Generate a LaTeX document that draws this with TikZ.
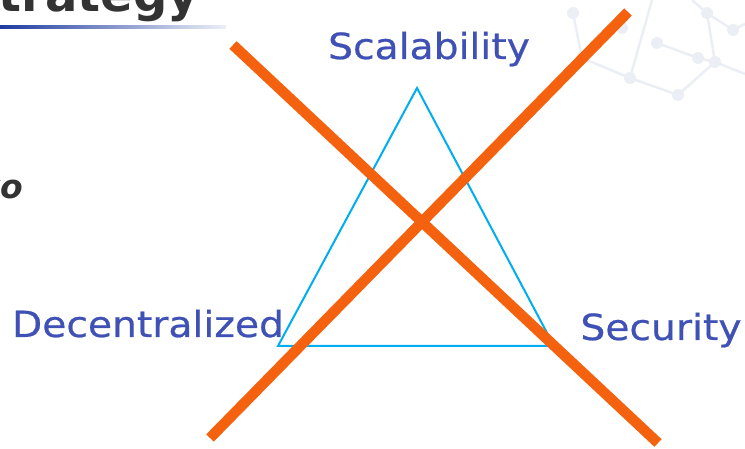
\documentclass[tikz,border=0pt]{standalone}
\usepackage{fontspec}
\setmainfont{DejaVu Sans}
\newfontfamily\labelfont[FakeStretch=1.09,FakeBold=0.6]{DejaVu Sans}
\usepackage{tikz}
\usetikzlibrary{positioning, calc}
\definecolor{bleu}{RGB}{63,81,181}
\definecolor{cyan}{RGB}{0,174,239}
\definecolor{orange}{RGB}{245,98,15}
\definecolor{gris}{RGB}{51,51,51}
\definecolor{reseau}{RGB}{235,238,244}
\definecolor{marine}{RGB}{30,60,160}

\begin{document}
\begin{tikzpicture}[x=1pt,y=-1pt,
		sommet/.style={font=\labelfont\fontsize{36}{36}\selectfont, text=bleu, inner sep=0pt, anchor=base},
		croix/.style={orange, line width=10.5pt}]
	\useasboundingbox (0,0) rectangle (745,449);
	% reseau en fond
	\foreach \xa/\ya/\xb/\yb in {630/78/678/95, 678/95/715/62, 715/62/707/13, 707/13/692/0,
		630/78/652/0, 657/43/698/58, 698/58/715/62, 715/62/745/74, 573/13/582/58,
		707/13/733/30, 733/30/745/24, 582/58/630/78}
	\draw[reseau, line width=2.5pt] (\xa,\ya) -- (\xb,\yb);
	\foreach \px/\py in {573/13, 622/28, 657/43, 707/13, 733/30, 698/58, 715/62, 630/78, 678/95, 582/58}
	\fill[reseau] (\px,\py) circle (6pt);
	% titre coupe
	\begin{scope}
		\clip (0,0) rectangle (745,23);
		\node[font=\bfseries\fontsize{48}{48}\selectfont, text=gris, inner sep=0pt, anchor=base east]
		(titre) at (199,12) {Strategy};
	\end{scope}
	\shade[left color=marine, right color=marine!8] (0,25.5) rectangle (226,28.5);
	\node[font=\bfseries\itshape\fontsize{33}{33}\selectfont, text=gris, inner sep=0pt, anchor=base east]
	(bout) at (23,199) {yo};
	% triangle
	\coordinate (haut) at (417,88);
	\coordinate (gauche) at (278,346);
	\coordinate (droite) at (554,346);
	\draw[cyan, line width=2pt, line join=miter] (haut) -- (gauche) -- (droite) -- cycle;
	\node[sommet] (scal) at (429,59) {Scalability};
	\node[sommet] (dec) at (148,337) {Decentralized};
	\node[sommet] (sec) at (661,340) {Security};
	% croix
	\coordinate (c1a) at (233,45);
	\coordinate (c1b) at (658,443);
	\coordinate (c2a) at (210,438);
	\coordinate (c2b) at (628,12);
	\draw[croix] (c1a) -- (c1b);
	\draw[croix] (c2a) -- (c2b);
\end{tikzpicture}
\end{document}
